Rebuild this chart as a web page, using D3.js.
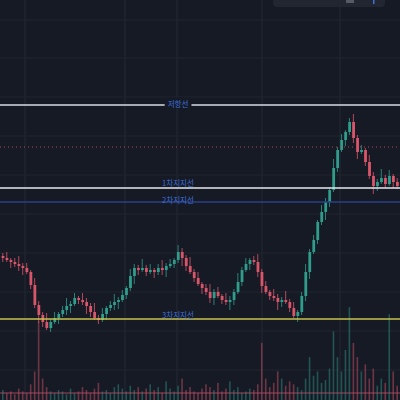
<!DOCTYPE html>
<html><head><meta charset="utf-8">
<script src="https://cdn.jsdelivr.net/npm/d3@7"></script>
<style>body{margin:0;background:#161a25}svg{display:block}</style></head>
<body><svg id="c" width="400" height="400"></svg>
<script>
const closeY = [258,260,262,264,266,268,272,285,305,315,322,328,322,318,314,310,306,304,298,300,302,306,312,318,320,314,308,305,302,300,295,288,276,268,270,268,272,270,272,268,270,266,264,260,252,258,266,272,278,284,288,292,298,292,296,300,302,300,292,282,270,264,260,262,272,286,292,296,298,302,300,302,308,316,312,296,272,252,240,222,212,202,190,168,150,140,132,122,138,152,150,162,176,186,182,178,184,176,182,186];
const closes = closeY.map(v => 400 - v);
const wickUp = [3,6,2,4,8,3,5,2,7,4,3,9];
const wickDn = [4,2,6,3,5,7,2,4,3,8,5,2];
const volumes = [14,10,12,8,16,12,10,22,40,110,30,18,12,10,14,12,8,16,10,12,18,14,10,16,24,12,14,10,18,22,16,12,20,14,18,12,16,22,14,18,10,26,16,12,20,30,14,18,12,10,16,22,18,14,24,12,16,26,14,18,10,12,16,14,22,80,30,18,24,40,30,20,26,22,18,14,30,60,34,40,24,28,44,96,60,40,70,130,80,60,40,50,30,44,20,30,24,120,40,20];
const levels = [
 {price:295, color:"#d8dbe2", label:"저항선", dash:null, w:1.5, ly:-0.5},
 {price:253, color:"#b5454f", label:null, dash:"1,3", w:1, ly:0},
 {price:212, color:"#e6e8ee", label:"1차지지선", dash:null, w:1.5, ly:-4},
 {price:198, color:"#2a3f8a", label:"2차지지선", dash:null, w:1.5, ly:-1},
 {price:81, color:"#c9c24a", label:"3차지지선", dash:null, w:1.5, ly:-3}
];
const svg = d3.select("#c");
svg.append("rect").attr("width",400).attr("height",400).attr("fill","#161a25");
const x = d3.scaleBand().domain(d3.range(closes.length)).range([0,400]).padding(0.4);
const y = d3.scaleLinear().domain([0,400]).range([400,0]);
const vy = d3.scaleLinear().domain([0,560]).range([400,0]);
[25,125,177,262,340].forEach(gx=>svg.append("line").attr("x1",gx).attr("x2",gx).attr("y1",0).attr("y2",400).attr("stroke","#232835").attr("stroke-width",1));
[20,58,97,136,175,214,253,292,331,370].forEach(gy=>svg.append("line").attr("x1",0).attr("x2",400).attr("y1",gy).attr("y2",gy).attr("stroke","#1f2430").attr("stroke-width",1));
const up="#2f9c8c", dn="#d9566a";
svg.append("g").selectAll("rect").data(volumes).join("rect")
 .attr("x",(d,i)=>x(i)+x.bandwidth()/2-0.8).attr("width",1.6).attr("y",d=>vy(d)).attr("height",d=>400-vy(d))
 .attr("fill",(d,i)=>closes[i]>=(i?closes[i-1]:closes[0])?up:dn).attr("opacity",0.45);
svg.append("line").attr("x1",0).attr("x2",400).attr("y1",393).attr("y2",393).attr("stroke","#c0506a").attr("stroke-width",1).attr("opacity",0.8);
const data = closes.map((c,i)=>{const o=i?closes[i-1]:c+2;return {i,o,c,h:Math.max(o,c)+wickUp[i%wickUp.length],l:Math.min(o,c)-wickDn[i%wickDn.length]};});
const g=svg.append("g");
g.selectAll("line").data(data).join("line")
 .attr("x1",d=>x(d.i)+x.bandwidth()/2).attr("x2",d=>x(d.i)+x.bandwidth()/2)
 .attr("y1",d=>y(d.h)).attr("y2",d=>y(d.l)).attr("stroke",d=>d.c>=d.o?up:dn).attr("stroke-width",0.8);
g.selectAll("rect").data(data).join("rect")
 .attr("x",d=>x(d.i)).attr("width",x.bandwidth()+0.4)
 .attr("y",d=>y(Math.max(d.o,d.c))).attr("height",d=>Math.max(1,Math.abs(y(d.o)-y(d.c))))
 .attr("fill",d=>d.c>=d.o?up:dn);
levels.forEach(L=>{
 const ly=y(L.price);
 const ln=svg.append("line").attr("x1",0).attr("x2",400).attr("y1",ly).attr("y2",ly).attr("stroke",L.color).attr("stroke-width",L.w);
 if(L.dash) ln.attr("stroke-dasharray",L.dash);
 if(L.label){
  const t=svg.append("text").attr("x",178).attr("y",ly+L.ly).attr("text-anchor","middle").attr("dominant-baseline","middle")
   .attr("font-family","Noto Sans CJK KR").attr("font-size",7.5).attr("fill","#3f6fd8").text(L.label);
  if(L.label==="저항선"){const b=t.node().getBBox();svg.insert("rect","text").attr("x",b.x-3).attr("y",b.y).attr("width",b.width+6).attr("height",b.height).attr("fill","#161a25");}
 }
});
svg.append("rect").attr("x",273).attr("y",-6).attr("width",112).attr("height",13).attr("rx",4).attr("fill","#222631");
svg.append("rect").attr("x",346).attr("y",0).attr("width",8).attr("height",3).attr("fill","#555a66");
svg.append("rect").attr("x",373).attr("y",0).attr("width",1.5).attr("height",4).attr("fill","#3f6fd8");
</script></body></html>
